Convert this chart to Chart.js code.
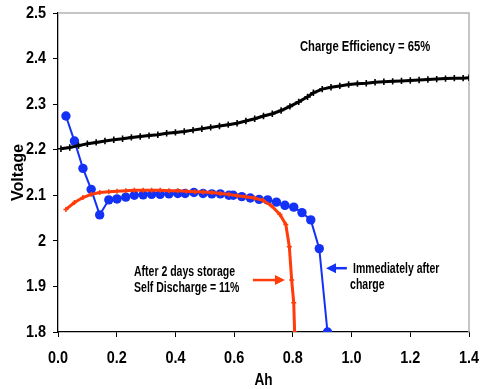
<!DOCTYPE html>
<html lang="en">
  <head>
    <meta charset="UTF-8" />
    <title>Charge efficiency</title>
    <script src="https://cdn.jsdelivr.net/npm/chart.js@4.4.1/dist/chart.umd.min.js"></script>
    <style>
      body { margin: 0; background: #fff; }
      .chart-container { width: 480px; height: 389px; }
    </style>
  </head>
  <body>
    <div class="chart-container">
      <canvas id="chart" width="480" height="389"></canvas>
    </div>
  </body>
  <script>
    const xTicks = [0, 0.2, 0.4, 0.6, 0.8, 1.0, 1.2, 1.4];
    const yTicks = [1.8, 1.9, 2.0, 2.1, 2.2, 2.3, 2.4, 2.5];

    // charge curve (black)
    const chargeAh = [0.01, 0.04, 0.07, 0.10, 0.13, 0.16, 0.19, 0.22, 0.25, 0.28, 0.31, 0.34, 0.37, 0.40, 0.43, 0.46, 0.49, 0.52, 0.55, 0.58, 0.61, 0.64, 0.67, 0.70, 0.73, 0.76, 0.79, 0.82, 0.85, 0.87, 0.90, 0.93, 0.96, 0.99, 1.02, 1.05, 1.08, 1.11, 1.14, 1.17, 1.20, 1.23, 1.26, 1.29, 1.32, 1.35, 1.38, 1.40];
    const chargeV = [2.202, 2.205, 2.209, 2.213, 2.216, 2.219, 2.222, 2.224, 2.227, 2.229, 2.231, 2.233, 2.236, 2.238, 2.240, 2.243, 2.246, 2.249, 2.252, 2.255, 2.258, 2.263, 2.268, 2.274, 2.279, 2.286, 2.295, 2.305, 2.316, 2.325, 2.333, 2.337, 2.340, 2.343, 2.345, 2.346, 2.348, 2.349, 2.350, 2.351, 2.352, 2.353, 2.354, 2.355, 2.356, 2.357, 2.357, 2.358];

    // discharge immediately after charge (blue)
    const freshAh = [0.027, 0.056, 0.085, 0.113, 0.142, 0.173, 0.201, 0.231, 0.260, 0.290, 0.319, 0.348, 0.378, 0.408, 0.433, 0.463, 0.494, 0.524, 0.553, 0.582, 0.597, 0.626, 0.655, 0.685, 0.714, 0.744, 0.773, 0.803, 0.831, 0.861, 0.890, 0.918];
    const freshV = [2.274, 2.219, 2.159, 2.113, 2.057, 2.090, 2.092, 2.096, 2.100, 2.101, 2.102, 2.102, 2.103, 2.104, 2.104, 2.106, 2.104, 2.103, 2.103, 2.100, 2.100, 2.097, 2.094, 2.091, 2.090, 2.085, 2.078, 2.074, 2.062, 2.046, 1.983, 1.800];

    // discharge after 2 days storage (red)
    const storedAh = [0.027, 0.056, 0.085, 0.113, 0.142, 0.173, 0.201, 0.231, 0.260, 0.290, 0.319, 0.348, 0.378, 0.408, 0.437, 0.466, 0.495, 0.524, 0.553, 0.582, 0.611, 0.640, 0.669, 0.698, 0.727, 0.756, 0.776, 0.788, 0.796, 0.803, 0.806];
    const storedV = [2.069, 2.084, 2.095, 2.102, 2.106, 2.108, 2.109, 2.110, 2.111, 2.111, 2.111, 2.111, 2.110, 2.110, 2.109, 2.108, 2.107, 2.106, 2.104, 2.102, 2.099, 2.097, 2.094, 2.089, 2.077, 2.058, 2.036, 1.987, 1.914, 1.864, 1.800];

    const toPoints = (xs, ys) => xs.map((x, i) => ({ x, y: ys[i] }));

    const FONT = "'Liberation Sans', Arial, sans-serif";
    const BLUE = "#1432f5";
    const RED = "#ff3c0a";

    // narrow bold text: the original uses a condensed face
    function label(ctx, text, x, y, size, align, sx, rot) {
      ctx.save();
      ctx.translate(x, y);
      if (rot) ctx.rotate(rot);
      ctx.scale(sx, 1);
      ctx.font = "bold " + size + "px " + FONT;
      ctx.textAlign = align;
      ctx.textBaseline = "middle";
      ctx.fillStyle = "#000";
      ctx.fillText(text, 0, 0);
      ctx.restore();
    }

    function arrow(ctx, x1, x2, y, color) {
      const dir = Math.sign(x2 - x1);
      ctx.strokeStyle = color;
      ctx.fillStyle = color;
      ctx.lineWidth = 2.5;
      ctx.beginPath();
      ctx.moveTo(x1, y);
      ctx.lineTo(x2 - dir * 8, y);
      ctx.stroke();
      ctx.beginPath();
      ctx.moveTo(x2, y);
      ctx.lineTo(x2 - dir * 10, y - 5);
      ctx.lineTo(x2 - dir * 10, y + 5);
      ctx.closePath();
      ctx.fill();
    }

    const frame = {
      id: "frame",
      beforeDatasetsDraw(chart) {
        const { ctx, chartArea: a } = chart;
        ctx.save();
        ctx.strokeStyle = "#b4b4b4";
        ctx.lineWidth = 1.5;
        ctx.beginPath();
        ctx.moveTo(a.left, a.top);
        ctx.lineTo(a.right, a.top);
        ctx.lineTo(a.right, a.bottom);
        ctx.stroke();
        ctx.restore();
      },
    };

    const texts = {
      id: "texts",
      afterDraw(chart) {
        const { ctx, scales, chartArea: a } = chart;
        const px = (v) => scales.x.getPixelForValue(v);
        const py = (v) => scales.y.getPixelForValue(v);

        scales.x.ticks.forEach((t) =>
          label(ctx, t.value.toFixed(1), px(t.value), a.bottom + 26, 17, "center", 0.85)
        );
        scales.y.ticks.forEach((t) =>
          label(ctx, String(Number(t.value.toFixed(1))), a.left - 12, py(t.value), 17, "right", 0.85)
        );
        label(ctx, "Ah", (a.left + a.right) / 2, a.bottom + 48, 17, "center", 0.8);
        label(ctx, "Voltage", 18, (a.top + a.bottom) / 2, 17, "center", 0.95, -Math.PI / 2);

        label(ctx, "Charge Efficiency = 65%", px(0.824), py(2.426), 15, "left", 0.75);
        label(ctx, "After 2 days storage", px(0.259), py(1.931), 14, "left", 0.75);
        label(ctx, "Self Discharge = 11%", px(0.259), py(1.896), 14, "left", 0.75);
        label(ctx, "Immediately after", px(1.005), py(1.938), 14, "left", 0.75);
        label(ctx, "charge", px(0.995), py(1.903), 14, "left", 0.75);

        ctx.save();
        arrow(ctx, px(0.664), px(0.773), py(1.914), RED);
        arrow(ctx, px(0.984), px(0.913), py(1.94), BLUE);
        ctx.restore();
      },
    };

    const axisOpts = {
      type: "linear",
      ticks: { display: false },
      grid: { drawOnChartArea: false, color: "#000", tickLength: 5 },
      border: { color: "#000", width: 1.3 },
    };

    new Chart(document.getElementById("chart").getContext("2d"), {
      type: "scatter",
      data: {
        datasets: [
          {
            label: "Charge",
            data: toPoints(chargeAh, chargeV),
            showLine: true,
            borderColor: "#000",
            backgroundColor: "#000",
            borderWidth: 3,
            pointStyle: "cross",
            pointRadius: 3.2,
            pointBorderWidth: 1.6,
          },
          {
            label: "After 2 days storage",
            data: toPoints(storedAh, storedV),
            showLine: true,
            borderColor: RED,
            backgroundColor: RED,
            borderWidth: 3,
            pointStyle: "cross",
            pointRadius: 2.5,
            pointBorderWidth: 1.5,
          },
          {
            label: "Immediately after charge",
            data: toPoints(freshAh, freshV),
            showLine: true,
            borderColor: BLUE,
            backgroundColor: BLUE,
            borderWidth: 2,
            pointStyle: "circle",
            pointRadius: 4.7,
            pointBorderWidth: 0,
          },
        ],
      },
      options: {
        responsive: false,
        animation: false,
        events: [],
        layout: { padding: { top: 13, right: 11, left: 0, bottom: 0 } },
        plugins: { legend: { display: false }, tooltip: { enabled: false } },
        scales: {
          x: {
            ...axisOpts,
            min: 0,
            max: 1.4,
            afterBuildTicks: (s) => { s.ticks = xTicks.map((value) => ({ value })); },
            afterFit: (s) => { s.height = 57; s.paddingLeft = 0; s.paddingRight = 0; },
          },
          y: {
            ...axisOpts,
            min: 1.8,
            max: 2.5,
            afterBuildTicks: (s) => { s.ticks = yTicks.map((value) => ({ value })); },
            afterFit: (s) => { s.width = 58; s.paddingTop = 0; s.paddingBottom = 0; },
          },
        },
      },
      plugins: [frame, texts],
    });
  </script>
</html>
